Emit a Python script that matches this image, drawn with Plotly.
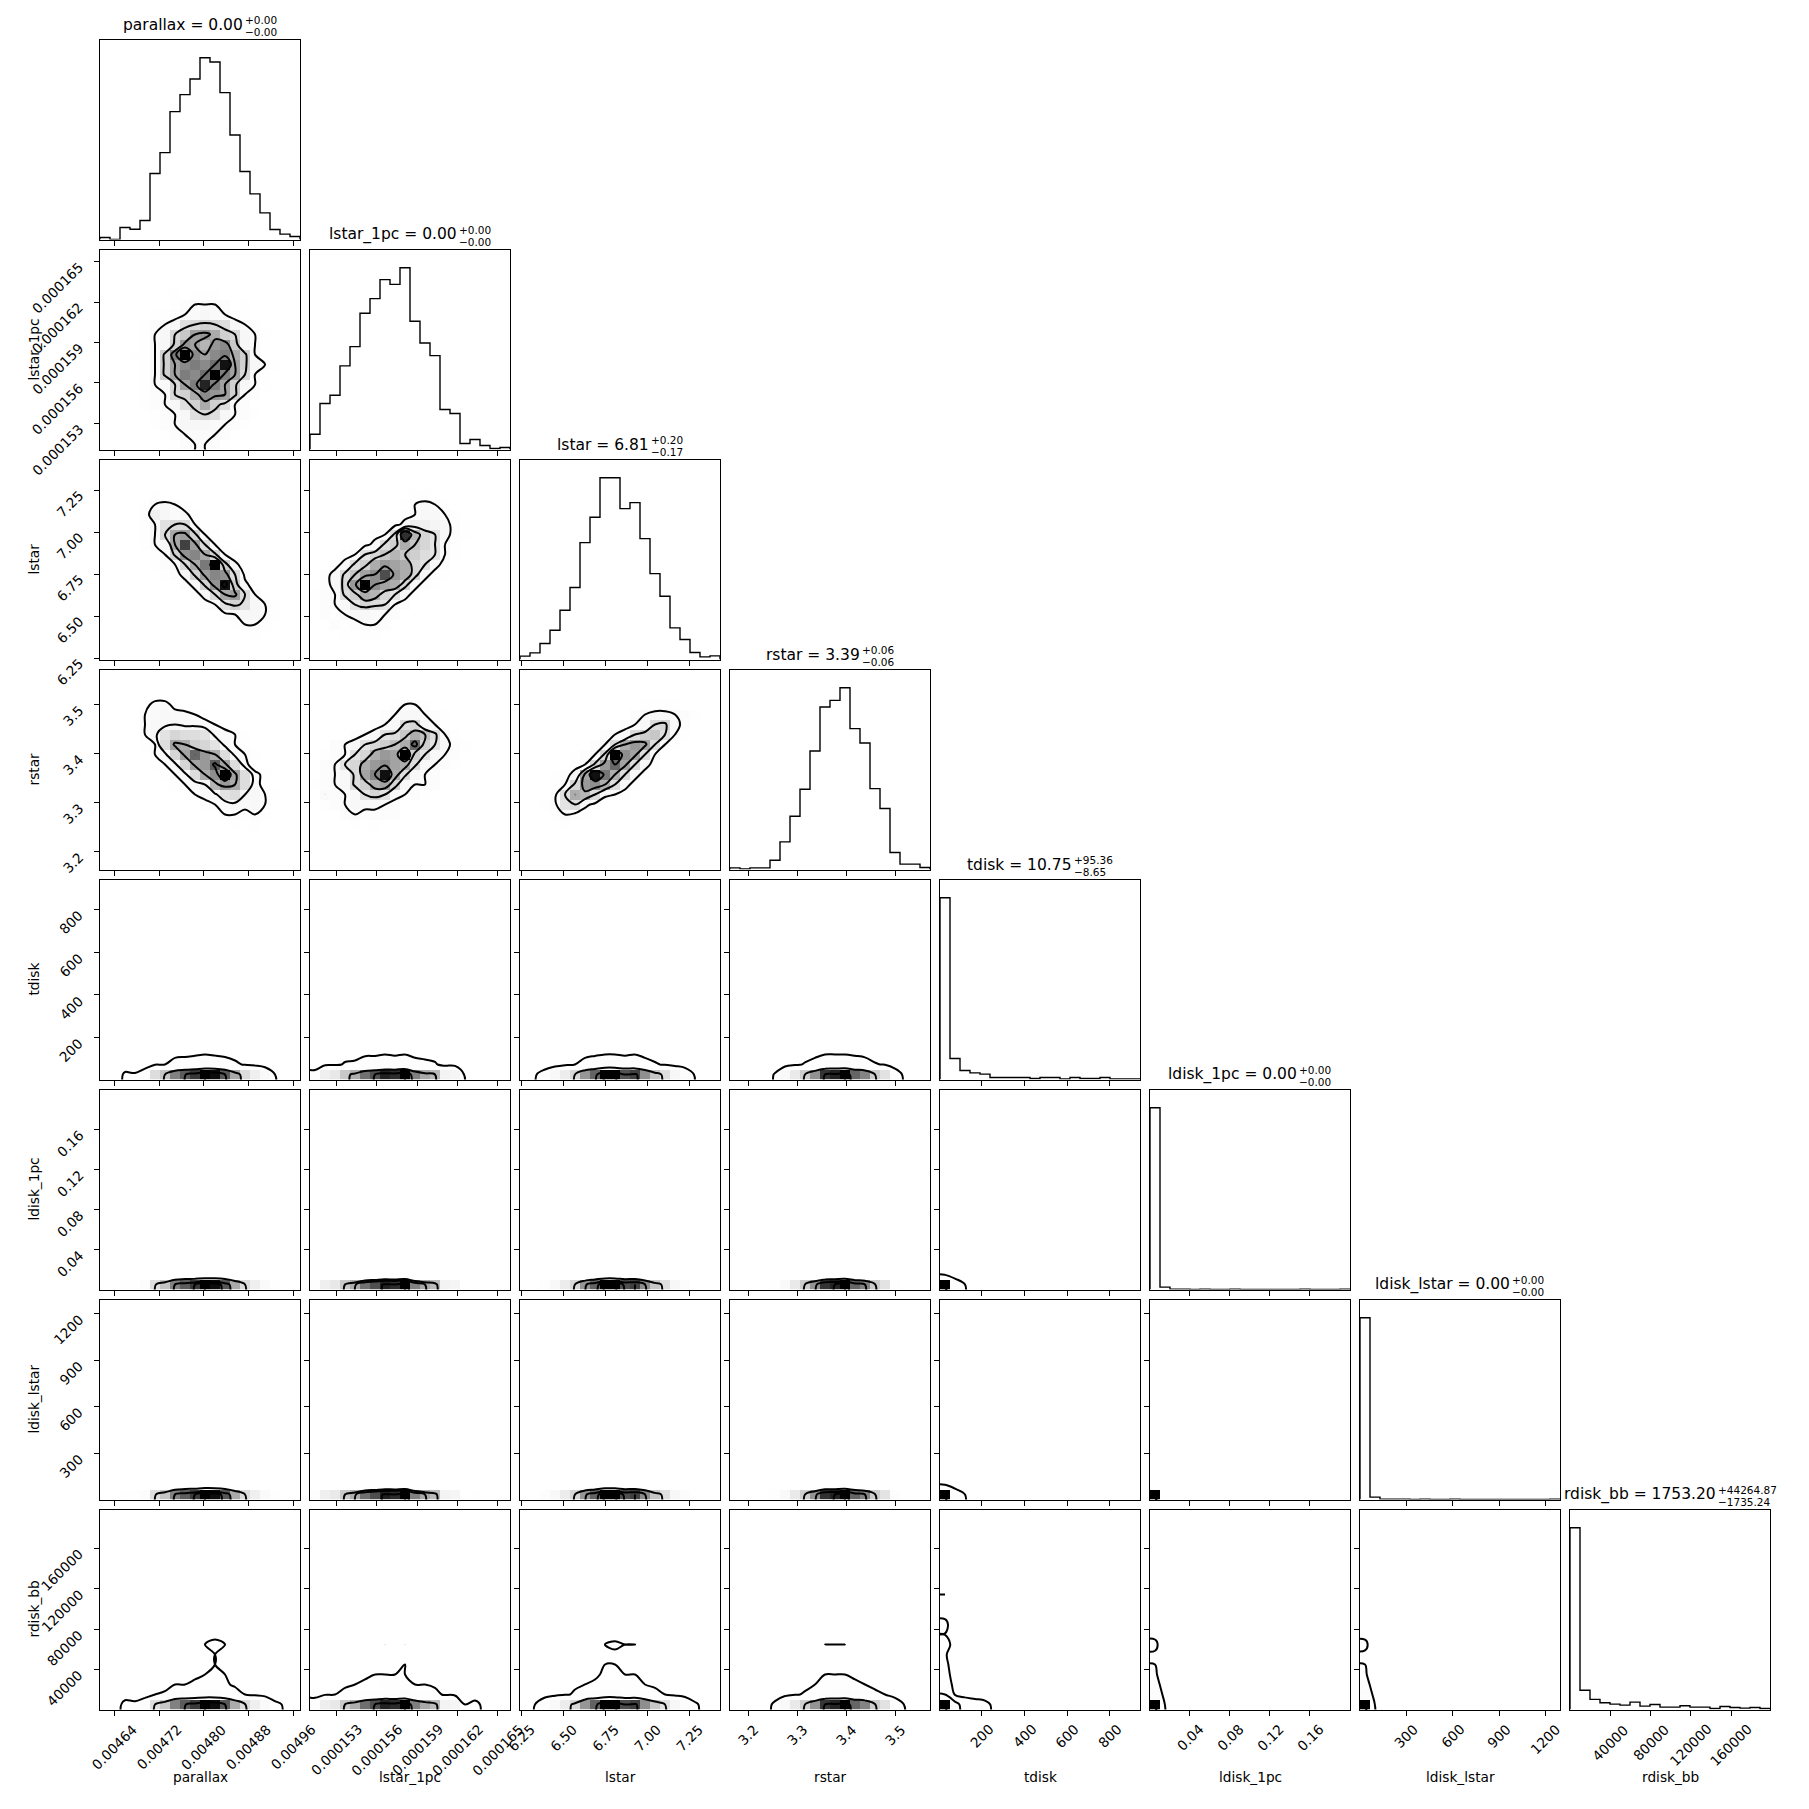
import numpy as np
import plotly.graph_objects as go

# parameter names, axis ranges and ticks
LABELS = ["parallax", "lstar_1pc", "lstar", "rstar", "tdisk", "ldisk_1pc", "ldisk_lstar", "rdisk_bb"]
RANGES = [[0.004614, 0.004972], [0.00015105, 0.0001659], [6.242, 7.432], [3.163, 3.571],
          [4.0, 941.0], [0.0005, 0.2], [0.5, 1292.0], [100.0, 198600.0]]
TICKS = [[0.00464, 0.00472, 0.00480, 0.00488, 0.00496],
         [0.000153, 0.000156, 0.000159, 0.000162, 0.000165],
         [6.25, 6.50, 6.75, 7.00, 7.25],
         [3.2, 3.3, 3.4, 3.5],
         [200, 400, 600, 800],
         [0.04, 0.08, 0.12, 0.16],
         [300, 600, 900, 1200],
         [40000, 80000, 120000, 160000]]
TICK_TEXT = [["0.00464", "0.00472", "0.00480", "0.00488", "0.00496"],
             ["0.000153", "0.000156", "0.000159", "0.000162", "0.000165"],
             ["6.25", "6.50", "6.75", "7.00", "7.25"],
             ["3.2", "3.3", "3.4", "3.5"],
             ["200", "400", "600", "800"],
             ["0.04", "0.08", "0.12", "0.16"],
             ["300", "600", "900", "1200"],
             ["40000", "80000", "120000", "160000"]]

# titles above the diagonal
TITLE_MAIN = ["parallax = 0.00", "lstar_1pc = 0.00", "lstar = 6.81", "rstar = 3.39",
              "tdisk = 10.75", "ldisk_1pc = 0.00", "ldisk_lstar = 0.00", "rdisk_bb = 1753.20"]
TITLE_UP = ["+0.00", "+0.00", "+0.20", "+0.06", "+95.36", "+0.00", "+0.00", "+44264.87"]
TITLE_LO = ["\u22120.00", "\u22120.00", "\u22120.17", "\u22120.06", "\u22128.65",
            "\u22120.00", "\u22120.00", "\u22121735.24"]

# 1D histograms (20 bins each)
HIST_PARALLAX = [6, 0, 36, 31, 57, 198, 261, 384, 435, 482, 546, 533, 441, 314, 204, 137, 80, 30, 16, 9]
HIST_LSTAR_1PC = [46, 138, 163, 251, 309, 409, 453, 510, 496, 546, 385, 320, 282, 120, 108, 18, 30, 12, 3, 6]
HIST_LSTAR = [10, 20, 48, 88, 148, 216, 351, 427, 546, 546, 453, 471, 363, 258, 190, 95, 60, 21, 8, 11]
HIST_RSTAR = [5, 2, 5, 5, 28, 83, 160, 241, 356, 488, 508, 546, 423, 380, 243, 183, 51, 16, 16, 6]
HIST_TDISK = [546, 63, 27, 20, 16, 6, 6, 6, 6, 3, 6, 6, 2, 6, 3, 3, 6, 2, 2, 2]
HIST_LDISK_1PC = [546, 7, 1, 1, 0, 1, 0, 0, 1, 0, 0, 0, 0, 0, 0, 1, 0, 0, 0, 1]
HIST_LDISK_LSTAR = [539, 7, 1, 1, 1, 0, 1, 0, 0, 1, 0, 0, 0, 0, 0, 0, 0, 0, 0, 1]
HIST_RDISK_BB = [540, 57, 30, 20, 16, 13, 22, 10, 15, 7, 7, 11, 7, 7, 3, 9, 6, 4, 6, 3]
HISTS = [HIST_PARALLAX, HIST_LSTAR_1PC, HIST_LSTAR, HIST_RSTAR,
         HIST_TDISK, HIST_LDISK_1PC, HIST_LDISK_LSTAR, HIST_RDISK_BB]

# 2D counts, correlated pairs: one base-36 digit per cell, top row first
Z = "00000000000000000000"
G_L1_P = [Z,
          "00000000000100000000",
          "00000001001100000000",
          "00000001111110000000",
          "00000012122211000000",
          "00000112344431200000",
          "00001223445443210000",
          "00012345abcba5421000",
          "0001245bdhigcb542100",
          "0001245cihfijd542000",
          "001224cksjhjkgc42000",
          "000124chjkjlrhc54200",
          "000124chkjlskhb42000",
          "0000244bhkqkhc542000",
          "0000234bcgjihc431000",
          "00002345acgca4310000",
          "000012345aba54320000",
          "00000234555443200000",
          "00000023444431000000",
          "00000012344321000000"]
G_LS_P = [Z, Z,
          "00000100000000000000",
          "00011211000000000000",
          "00012454210000000000",
          "00012754521000000000",
          "000124abb42100000000",
          "000124bhic4210000000",
          "0000245hpib420000000",
          "0000124cjkhc42000000",
          "00000234bhltd5200000",
          "000000235cikjb310000",
          "0000000135cjsd520000",
          "00000000135bhib42000",
          "000000000134aca54200",
          "00000000000134554200",
          "00000000000002442100",
          "00000000000000121000",
          "00000000000000010000",
          Z]
G_LS_L1 = [Z, Z,
           "00000000000100000000",
           "00000000012211000000",
           "00000000024542000000",
           "00000000134554200000",
           "00000001358765320000",
           "00000134brgca5320000",
           "0000235bdheca4200000",
           "00134acegedba4200000",
           "0135bdhjihca53100000",
           "135beikpjhc532000000",
           "135cjukihc5320000000",
           "234bdhgca53100000000",
           "1345acba431000000000",
           "13245544310000000000",
           "01323443100000000000",
           "00121221000000000000",
           "00010100000000000000",
           Z]
G_RS_P = [Z, Z,
          "00000110000000000000",
          "00002442100000000000",
          "00013454432000000000",
          "00013556554320000000",
          "000135acbba543200000",
          "000023bihdca53200000",
          "0000135cinjhb5320000",
          "00000235cijoib410000",
          "000001235bhkuib42000",
          "00000002346gjhb42000",
          "000000001345ab653200",
          "00000000002345453100",
          "00000000000133232000",
          "00000000000012121000",
          "00000000000001010000",
          Z, Z, Z]
G_RS_L1 = [Z, Z,
           "00000000011100000000",
           "00000000244200000000",
           "00000013455432000000",
           "000001345bc542000000",
           "0001345abehfb4200000",
           "01345acdfhnda5320000",
           "0234achjiuda54310000",
           "134achjkihb543200000",
           "1345bilthb5431000000",
           "2345bdhic54431000000",
           "14345aca543200000000",
           "02345554310000000000",
           "00134333310000000000",
           "00012121000000000000",
           "00001010000000000000",
           Z, Z, Z]
G_RS_LS = [Z, Z,
           "00000000000001110000",
           "00000000001122221000",
           "00000000001345543200",
           "0000000001345bc53100",
           "00000001345bdeb42000",
           "000000134bhjib420000",
           "00000234cukib4200000",
           "0000134cjnib53100000",
           "000235itmhb531000000",
           "00024cjkhb5310000000",
           "0013bhgb543100000000",
           "0023ab53100000000000",
           "00024320000000000000",
           "00012110000000000000",
           "00001000000000000000",
           Z, Z, Z]

# 2D counts for the skewed pairs: bottom row first, missing cells are zero
G_TD_P = ["1 0 9 8 14 49 64 95 108 119 135 132 109 78 50 34 20 7 4 2",
          "0 0 1 1 2 6 7 11 13 14 16 15 13 9 6 4 2 1 0 0",
          "0 0 0 0 1 2 3 5 5 6 7 6 5 4 2 2 1 0 0 0",
          "0 0 0 0 1 2 2 3 4 4 5 5 4 3 2 1 1 0 0 0",
          "0 0 0 1 0 1 2 3 3 3 4 4 3 2 1 1 1 0 0 0",
          "0 0 0 0 0 1 1 1 1 2 1 2 1 1 0 0 0 0 0 0",
          "0 0 0 0 1 0 1 1 2 1 1 1 1 0 1 0 0 0 0 0",
          "0 0 0 0 0 1 0 1 1 1 2 1 1 1 0 1 0 0 0 0",
          "0 0 0 0 0 0 1 1 1 2 1 1 0 1 1 0 0 0 0 0"]
G_TD_L1 = ["10 31 37 57 70 92 102 115 112 123 87 72 64 27 24 4 5 3 1 1",
           "1 4 4 7 8 11 12 13 13 14 10 8 7 3 3 0 1 0 0 0",
           "0 2 2 3 3 5 5 6 5 6 4 4 3 1 1 0 0 0 0 0",
           "0 1 1 2 3 3 4 4 4 5 3 3 2 1 1 0 0 0 0 0",
           "0 1 1 1 2 2 3 3 3 4 2 2 2 1 0 0 0 0 0 0",
           "0 0 1 1 1 1 1 2 1 2 1 1 1 0 0 0 0 0 0 0",
           "0 1 0 1 1 1 1 1 2 1 1 1 0 0 1 0 0 0 0 0",
           "0 0 0 1 1 1 2 1 1 1 1 0 1 0 0 0 0 0 0 0",
           "0 0 1 0 1 1 1 1 1 2 1 1 0 0 0 0 0 0 0 0"]
G_TD_LS = ["2 5 11 21 35 52 84 102 131 131 108 113 87 62 46 23 14 5 2 3",
           "0 1 1 2 4 6 10 12 15 15 13 13 10 7 5 3 2 1 0 0",
           "0 0 1 1 2 3 4 5 6 6 5 6 4 3 2 1 1 0 0 0",
           "0 0 0 1 1 2 3 4 5 5 4 4 3 2 2 1 0 0 0 0",
           "0 0 0 1 1 2 2 3 3 3 3 3 2 2 1 1 0 0 0 0",
           "0 0 0 0 1 1 1 1 2 2 1 1 1 1 0 0 0 0 0 0",
           "0 0 0 1 0 1 1 1 1 2 1 1 1 0 0 1 0 0 0 0",
           "0 0 0 0 1 0 1 2 1 1 1 1 0 1 0 0 0 0 0 0",
           "0 0 0 0 0 1 1 1 1 1 2 1 1 0 1 0 0 0 0 0"]
G_TD_RS = ["1 1 1 1 8 23 44 67 99 135 141 151 117 105 67 51 14 4 4 2",
           "0 0 0 0 1 3 5 8 11 16 16 17 14 12 8 6 2 0 0 0",
           "0 0 0 0 0 1 2 3 5 7 7 7 6 5 3 2 1 0 0 0",
           "0 0 0 0 0 1 2 2 4 5 5 6 4 4 2 2 0 0 0 0",
           "0 0 0 0 1 1 1 2 3 3 4 4 3 3 2 1 0 0 0 0",
           "0 0 0 0 0 0 1 1 1 2 2 2 1 1 1 0 0 0 0 0",
           "0 0 0 0 0 1 0 1 1 1 2 1 1 1 0 1 0 0 0 0",
           "0 0 0 0 0 0 1 1 1 2 1 1 2 0 1 0 0 0 0 0",
           "0 0 0 0 0 1 1 0 1 1 1 2 1 1 0 0 0 0 0 0"]

G_LD1_P = ["2 0 12 10 19 65 86 126 143 158 179 175 145 103 67 45 26 10 5 3",
           "0 0 0 0 0 1 1 2 2 2 2 2 2 1 1 1 0 0 0 0"]
G_LD1_L1 = ["14 41 49 75 93 123 136 153 149 164 115 96 85 36 32 5 9 4 1 2",
            "0 1 1 1 1 2 2 2 2 2 1 1 1 0 0 0 0 0 0 0"]
G_LD1_LS = ["3 6 15 28 47 69 112 136 174 174 144 150 116 82 61 30 19 7 3 4",
            "0 0 0 0 1 1 1 2 2 2 2 2 1 1 1 0 0 0 0 0"]
G_LD1_RS = ["2 1 2 2 10 31 59 89 131 180 187 201 156 140 90 67 19 6 6 2",
            "0 0 0 0 0 0 1 1 2 2 2 2 2 2 1 1 0 0 0 0"]
G_LD1_TD = ["1020 118 50 37 30 11 11 11 11 6 11 11 4 11 6 6 11 4 4 4",
            "14 2 1",
            "2"]

G_LDL_P = ["1 0 11 10 18 63 83 122 139 153 174 170 141 100 65 44 25 10 5 3",
           "0 0 0 0 1 1 2 2 3 2 3 2 2 1 1 0 1 0 0 0",
           "0 0 0 0 0 0 0 1 0 1 1 0 1 0 0 0 0 0 0 0"]
G_LDL_L1 = ["14 40 47 73 90 119 132 149 145 159 112 93 82 35 31 5 9 3 1 2",
            "0 1 1 1 2 2 2 3 2 2 2 1 1 1 0 0 0 0 0 0",
            "0 0 0 0 0 1 0 1 1 0 1 0 0 0 0 0 0 0 0 0"]
G_LDL_LS = ["3 6 14 27 46 67 109 132 169 169 140 146 113 80 59 29 18 7 3 3",
            "0 0 0 1 1 1 2 2 3 3 2 2 2 1 1 0 0 0 0 0",
            "0 0 0 0 0 0 1 0 1 1 0 1 0 0 0 0 0 0 0 0"]
G_LDL_RS = ["2 1 2 2 10 30 57 86 127 175 182 195 152 136 87 65 18 6 6 2",
            "0 0 0 0 0 1 1 2 2 3 3 3 2 2 1 1 0 0 0 0",
            "0 0 0 0 0 0 0 0 1 1 0 1 1 0 0 0 0 0 0 0"]
G_LDL_TD = ["1000 115 49 36 29 11 11 11 11 6 11 11 4 11 6 6 11 4 4 4",
            "15 2 1",
            "3",
            "2",
            "2",
            "1"]
G_LDL_LD1 = ["1345 4 1",
             "5 12 1",
             "1 2 3 1",
             "0 1 1 1",
             "0 0 1 1 1",
             "0 0 0 0 1",
             "0 0 0 0 0 0 1",
             "", "", "", "", "", "", "",
             "0 0 0 0 0 0 0 0 0 0 0 0 0 0 1"]

G_RD_P = ["1 0 8 7 13 45 59 87 99 109 124 121 100 71 46 31 18 7 4 2",
          "0 0 1 1 1 5 6 9 10 12 13 13 11 8 5 3 2 1 0 0",
          "0 0 0 0 1 2 3 5 5 6 7 7 6 4 3 2 1 0 0 0",
          "0 0 0 0 0 1 2 3 4 4 5 6 5 3 2 1 1 0 0 0",
          "0 0 0 0 0 1 1 2 3 3 4 5 4 2 2 1 1 0 0 0",
          "0 0 0 0 0 1 1 2 2 3 4 5 3 2 1 1 0 0 0 0",
          "0 0 0 0 1 1 2 3 3 4 5 6 5 3 2 2 1 0 0 0",
          "0 0 0 0 0 0 1 1 2 2 3 4 3 1 1 0 0 0 0 0",
          "0 0 0 0 0 1 1 2 2 3 4 4 3 2 1 1 0 0 0 0"]
G_RD_L1 = ["10 29 34 52 64 85 94 105 103 113 80 66 58 25 22 4 6 2 1 1",
           "1 3 4 6 7 9 10 11 11 12 8 7 6 3 2 0 1 0 0 0",
           "1 2 2 3 4 5 5 6 6 6 4 4 3 1 1 0 0 0 0 0",
           "0 1 1 2 3 3 4 4 4 4 3 2 2 1 1 0 0 0 0 0",
           "0 1 1 1 2 3 3 3 3 4 2 2 1 1 0 0 0 0 0 0",
           "0 0 1 1 1 2 2 3 2 3 2 2 1 1 0 0 0 0 0 0",
           "0 1 1 2 2 3 3 4 3 4 3 3 2 1 1 0 0 0 0 0",
           "0 0 1 1 1 1 2 2 2 2 1 1 1 0 0 0 0 0 0 0",
           "0 0 1 1 2 2 2 3 2 3 2 2 1 1 0 0 0 0 0 0"]
G_RD_LS = ["2 4 11 19 33 47 77 94 120 120 100 104 80 57 42 21 13 5 2 2",
           "0 0 1 2 3 5 8 10 13 13 11 11 8 6 4 2 1 1 0 0",
           "0 0 1 1 2 3 4 5 7 7 6 6 4 3 2 1 1 0 0 0",
           "0 0 0 1 1 2 3 3 5 4 4 4 3 2 1 1 0 0 0 0",
           "0 0 0 1 1 1 2 3 4 4 3 3 2 2 1 0 0 0 0 0",
           "0 0 0 0 1 1 2 2 3 3 3 2 2 1 1 0 0 0 0 0",
           "0 0 0 1 1 2 3 3 4 5 4 4 3 2 1 1 0 0 0 0",
           "0 0 0 0 0 1 1 2 2 2 2 1 1 1 0 0 0 0 0 0",
           "0 0 0 0 1 1 2 2 3 3 2 2 2 1 1 0 0 0 0 0"]
G_RD_RS = ["1 1 1 1 7 21 41 61 90 124 129 139 108 97 62 47 13 4 4 2",
           "0 0 0 0 1 2 4 6 10 13 14 15 11 10 7 5 1 0 0 0",
           "0 0 0 0 0 1 2 3 5 7 7 8 6 5 3 3 1 0 0 0",
           "0 0 0 0 0 1 1 2 3 5 5 5 4 3 2 2 0 0 0 0",
           "0 0 0 0 0 1 1 2 3 4 4 4 3 3 2 1 0 0 0 0",
           "0 0 0 0 0 1 1 1 2 3 3 3 3 2 1 1 0 0 0 0",
           "0 0 0 0 1 1 2 2 4 5 5 5 4 3 2 1 0 0 0 0",
           "0 0 0 0 0 0 1 1 2 2 2 2 2 1 1 0 0 0 0 0",
           "0 0 0 0 0 1 1 2 3 3 3 3 2 2 1 0 0 0 0 0"]
G_RD_TD = ["1000 120 51 38 30 9 9 9 9 6 9 9 4 9 6 6 9 4 4 4",
           "90 15 6 4 2 1",
           "53 3 1", "35 2", "28 1", "23", "39 1", "18", "27", "12",
           "12", "19", "12", "12", "5", "15", "11", "7", "11", "5"]
G_RD_LD1 = ["945 14 2 1", "100 2", "52 1", "35", "28", "22", "38", "18", "24", "12",
            "12", "19", "11", "12", "5", "16", "11", "7", "11", "5"]
G_RD_LDL = ["935 13 3 1 1", "98 3", "51 1", "34", "28 1", "21", "38", "17", "24", "12",
            "12", "18", "11", "12", "5", "15", "11", "7", "10", "5"]

DIGIT_GRIDS = {(1, 0): G_L1_P, (2, 0): G_LS_P, (2, 1): G_LS_L1,
               (3, 0): G_RS_P, (3, 1): G_RS_L1, (3, 2): G_RS_LS}
COUNT_GRIDS = {(4, 0): G_TD_P, (4, 1): G_TD_L1, (4, 2): G_TD_LS, (4, 3): G_TD_RS,
               (5, 0): G_LD1_P, (5, 1): G_LD1_L1, (5, 2): G_LD1_LS, (5, 3): G_LD1_RS, (5, 4): G_LD1_TD,
               (6, 0): G_LDL_P, (6, 1): G_LDL_L1, (6, 2): G_LDL_LS, (6, 3): G_LDL_RS, (6, 4): G_LDL_TD,
               (6, 5): G_LDL_LD1,
               (7, 0): G_RD_P, (7, 1): G_RD_L1, (7, 2): G_RD_LS, (7, 3): G_RD_RS, (7, 4): G_RD_TD,
               (7, 5): G_RD_LD1, (7, 6): G_RD_LDL}

NB = 20
OFF = 8            # the page body margin shifts the figure by 8 px
FIG_W = 1801
FIG_H = 1793
FONT = "DejaVu Sans"

# DejaVu Sans advance widths (em) for title layout
CW = {"a": 0.613, "b": 0.635, "c": 0.550, "d": 0.635, "i": 0.278, "k": 0.579, "l": 0.278,
      "p": 0.635, "r": 0.411, "s": 0.521, "t": 0.392, "x": 0.592, "_": 0.5, " ": 0.318,
      "=": 0.838, "+": 0.838, "\u2212": 0.838, ".": 0.318}


def tw(s, size):
    return sum(CW.get(c, 0.636) for c in s) * size


def px_x(p):
    return (p - OFF) / FIG_W


def px_y(p):
    return 1 - (p - OFF) / FIG_H


def digit_grid(rows):
    H = np.array([[int(c, 36) for c in r.ljust(NB, "0")[:NB]] for r in rows], dtype=float)
    return H[::-1]


def count_grid(rows):
    H = np.zeros((NB, NB))
    for r, line in enumerate(rows):
        vals = [float(v) for v in line.split()]
        H[r, :len(vals)] = vals
    return H


def corner_levels(H):
    lv = 1.0 - np.exp(-0.5 * np.array([0.5, 1.0, 1.5, 2.0]) ** 2)
    hf = np.sort(H.flatten())[::-1]
    sm = np.cumsum(hf)
    sm /= sm[-1]
    V = np.empty(len(lv))
    for n, v0 in enumerate(lv):
        sel = hf[sm <= v0]
        V[n] = sel[-1] if len(sel) else hf[0]
    V.sort()
    m = np.diff(V) == 0
    while np.any(m):
        V[np.where(m)[0][0]] *= 1.0 - 1e-4
        m = np.diff(V) == 0
    return V


def padded(H, xe, ye):
    xc = 0.5 * (xe[1:] + xe[:-1])
    yc = 0.5 * (ye[1:] + ye[:-1])
    dx = xe[1] - xe[0]
    dy = ye[1] - ye[0]
    X2 = np.concatenate([xc[0] + np.array([-2, -1]) * dx, xc, xc[-1] + np.array([1, 2]) * dx])
    Y2 = np.concatenate([yc[0] + np.array([-2, -1]) * dy, yc, yc[-1] + np.array([1, 2]) * dy])
    H2 = H.min() + np.zeros((H.shape[0] + 4, H.shape[1] + 4))
    H2[2:-2, 2:-2] = H
    H2[2:-2, 1] = H[:, 0]
    H2[2:-2, -2] = H[:, -1]
    H2[1, 2:-2] = H[0]
    H2[-2, 2:-2] = H[-1]
    H2[1, 1] = H[0, 0]
    H2[1, -2] = H[0, -1]
    H2[-2, 1] = H[-1, 0]
    H2[-2, -2] = H[-1, -1]
    return X2, Y2, H2


fig = go.Figure()
layout = {}
annotations = []
axis_common = dict(showgrid=False, zeroline=False, showline=True, linecolor="black", linewidth=1.1,
                   mirror=True, ticks="outside", ticklen=5, tickwidth=1, tickcolor="black",
                   showticklabels=False)
tick_font = dict(family=FONT, size=13.7, color="black")

k = 0
for j in range(8):
    for i in range(j + 1):
        k += 1
        xa = "x" if k == 1 else f"x{k}"
        ya = "y" if k == 1 else f"y{k}"
        left = 100 + 210 * i
        top = 39.5 + 210 * j
        xdom = [px_x(left), px_x(left + 200)]
        ydom = [px_y(top + 200), px_y(top)]
        layout["xaxis" if k == 1 else f"xaxis{k}"] = dict(
            axis_common, domain=xdom, anchor=ya, range=RANGES[i], tickvals=TICKS[i])
        xe = np.linspace(RANGES[i][0], RANGES[i][1], NB + 1)

        if i == j:
            h = HISTS[i]
            layout["yaxis" if k == 1 else f"yaxis{k}"] = dict(
                axis_common, domain=ydom, anchor=xa, range=[0, 1.1 * max(h)], ticks="", tickvals=[])
            fig.add_trace(go.Scatter(x=[xe[0]] + list(xe[:-1]) + [xe[-1]], y=[0] + list(h) + [0],
                                     mode="lines", line=dict(color="black", width=1.4, shape="hv"),
                                     hoverinfo="skip", xaxis=xa, yaxis=ya))
        else:
            layout["yaxis" if k == 1 else f"yaxis{k}"] = dict(
                axis_common, domain=ydom, anchor=xa, range=RANGES[j], tickvals=TICKS[j])
            ye = np.linspace(RANGES[j][0], RANGES[j][1], NB + 1)
            if (j, i) in DIGIT_GRIDS:
                H = digit_grid(DIGIT_GRIDS[(j, i)])
            else:
                H = count_grid(COUNT_GRIDS[(j, i)])
            fig.add_trace(go.Heatmap(x=xe, y=ye, z=H, zmin=0, zmax=H.max(),
                                     colorscale=[[0, "rgba(255,255,255,0)"], [1, "rgba(0,0,0,1)"]],
                                     showscale=False, hoverinfo="skip", xaxis=xa, yaxis=ya))
            X2, Y2, H2 = padded(H, xe, ye)
            for v in corner_levels(H):
                lvl = v * (1 - 1e-3)
                fig.add_trace(go.Contour(x=X2, y=Y2, z=H2, autocontour=False,
                                         contours=dict(start=lvl, end=lvl, size=max(lvl, 1e-6),
                                                       coloring="lines", showlabels=False),
                                         colorscale=[[0, "black"], [1, "black"]],
                                         line=dict(width=2), showscale=False, hoverinfo="skip",
                                         xaxis=xa, yaxis=ya))

        # tick labels on the outer edges
        if j == 7:
            for t, s in zip(TICKS[i], TICK_TEXT[i]):
                annotations.append(dict(x=t, xref=xa, y=px_y(top + 200 + 9), yref="paper",
                                        text=s, textangle=-45, showarrow=False,
                                        xanchor="center", yanchor="top", font=tick_font))
        if i == 0 and j > 0:
            for t, s in zip(TICKS[j], TICK_TEXT[j]):
                annotations.append(dict(x=px_x(89), xref="paper", y=t, yref=ya, yshift=5,
                                        text=s, textangle=-45, showarrow=False,
                                        xanchor="right", yanchor="top", font=tick_font))

# axis labels
for n, name in enumerate(LABELS):
    annotations.append(dict(x=px_x(200 + 210 * n), y=px_y(1776.5), xref="paper", yref="paper",
                            text=name, showarrow=False, xanchor="center", yanchor="middle",
                            font=tick_font))
    if n > 0:
        annotations.append(dict(x=px_x(33), y=px_y(139.5 + 210 * n), xref="paper", yref="paper",
                                text=name, textangle=-90, showarrow=False,
                                xanchor="center", yanchor="middle", font=tick_font))

# titles with stacked upper / lower errors
TS, SS = 15.5, 10.5
for n in range(8):
    center = 200 + 210 * n
    top = 39.5 + 210 * n
    wm = tw(TITLE_MAIN[n], TS)
    ws = max(tw(TITLE_UP[n], SS), tw(TITLE_LO[n], SS))
    x0 = center - (wm + ws) / 2
    annotations.append(dict(x=px_x(x0 + wm + 1), y=px_y(top - 3.1), xref="paper", yref="paper",
                            text=TITLE_MAIN[n], showarrow=False, xanchor="right", yanchor="bottom",
                            font=dict(family=FONT, size=TS, color="black")))
    annotations.append(dict(x=px_x(x0 + wm), y=px_y(top - 12.9), xref="paper", yref="paper",
                            text=TITLE_UP[n], showarrow=False, xanchor="left", yanchor="bottom",
                            borderpad=0, font=dict(family=FONT, size=SS, color="black")))
    annotations.append(dict(x=px_x(x0 + wm), y=px_y(top - 0.6), xref="paper", yref="paper",
                            text=TITLE_LO[n], showarrow=False, xanchor="left", yanchor="bottom",
                            borderpad=0, font=dict(family=FONT, size=SS, color="black")))

fig.update_layout(**layout)
fig.update_layout(width=FIG_W, height=FIG_H, margin=dict(l=0, r=0, t=0, b=0),
                  paper_bgcolor="white", plot_bgcolor="white", showlegend=False,
                  font=dict(family=FONT, color="black"), annotations=annotations)
fig.write_html("out.html")
